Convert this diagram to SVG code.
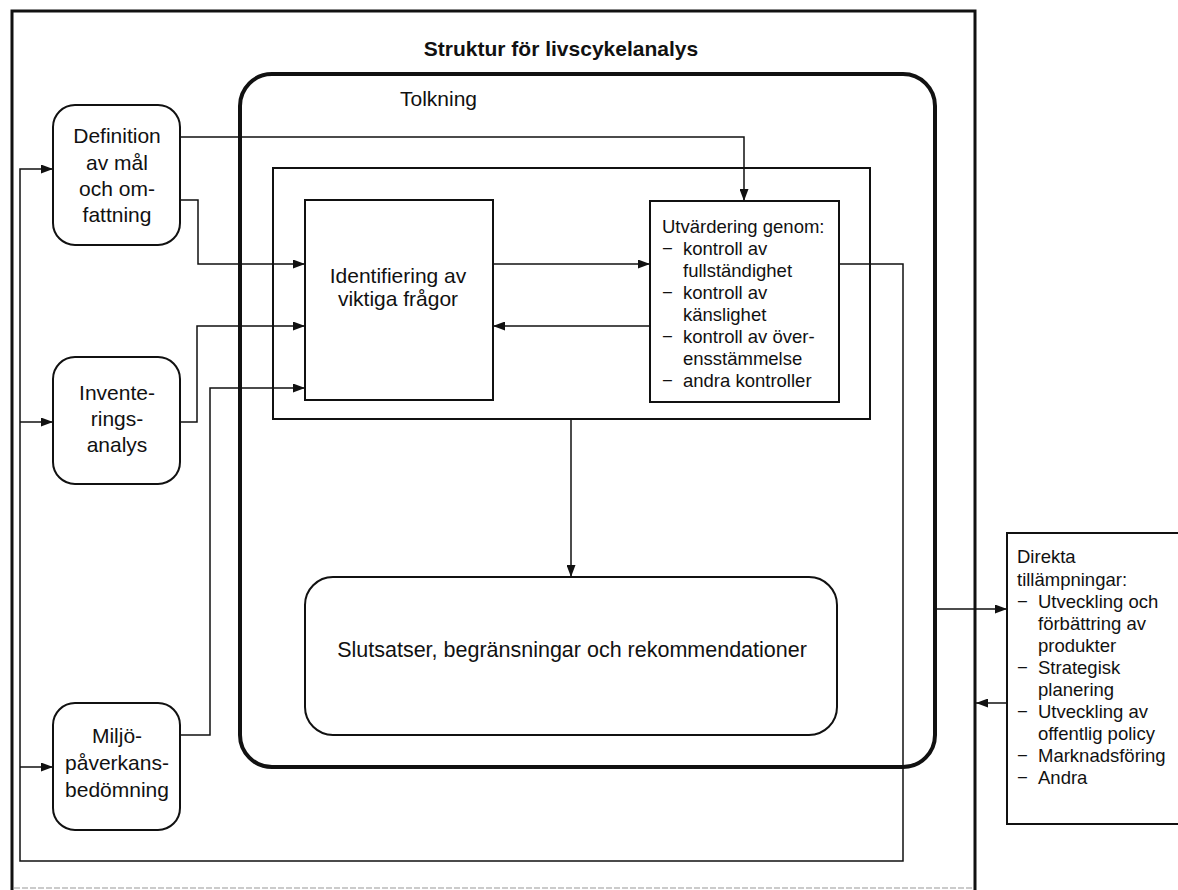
<svg xmlns="http://www.w3.org/2000/svg" width="1178" height="890" viewBox="0 0 1178 890">
<style>
text{font-family:"Liberation Sans",Arial,sans-serif;fill:#111;}
.t21{font-size:21px;}
.t18{font-size:18.5px;}
.c{text-anchor:middle;}
.box{fill:#fff;stroke:#111;stroke-width:2;}
.conn{fill:none;stroke:#111;stroke-width:1.5;}
</style>
<defs>
<marker id="arr" markerUnits="userSpaceOnUse" markerWidth="13" markerHeight="9" refX="12" refY="4.5" orient="auto">
<path d="M0,0 L12,4.5 L0,9 z" fill="#111"/>
</marker>
</defs>
<rect width="1178" height="890" fill="#fff"/>
<g id="frame">
<path d="M12,890 V11 H975 V890" fill="none" stroke="#111" stroke-width="3"/>
<line x1="14" y1="888" x2="973" y2="888" stroke="#bbb" stroke-width="1.5" stroke-dasharray="6,2"/>
<text x="561" y="56" class="c" font-size="21" font-weight="bold">Struktur för livscykelanalys</text>
</g>
<g id="tolkning">
<rect x="240" y="74" width="695" height="693" rx="32" fill="none" stroke="#111" stroke-width="4"/>
<text x="400" y="106" class="t21">Tolkning</text>
</g>
<g id="inner">
<rect x="273" y="168" width="597" height="251" fill="none" stroke="#111" stroke-width="2"/>
</g>
<g id="connectors">
<path class="conn" d="M839,264 H903 V861 H20 V169 H53" marker-end="url(#arr)"/>
<path class="conn" d="M20,422 H53" marker-end="url(#arr)"/>
<path class="conn" d="M20,767 H53" marker-end="url(#arr)"/>
<path class="conn" d="M180,137 H744 V201" marker-end="url(#arr)"/>
<path class="conn" d="M180,200 H198 V264 H305" marker-end="url(#arr)"/>
<path class="conn" d="M180,422 H197 V326 H305" marker-end="url(#arr)"/>
<path class="conn" d="M180,735 H210 V388 H305" marker-end="url(#arr)"/>
<path class="conn" d="M493,264 H650" marker-end="url(#arr)"/>
<path class="conn" d="M650,326 H493" marker-end="url(#arr)"/>
<path class="conn" d="M571,419 V577" marker-end="url(#arr)"/>
<path class="conn" d="M935,609 H1007" marker-end="url(#arr)"/>
<path class="conn" d="M1007,703 H976" marker-end="url(#arr)"/>
</g>
<g id="definition">
<rect class="box" x="53" y="105" width="127" height="140" rx="22"/>
<text class="t21 c" x="117" y="143">Definition</text>
<text class="t21 c" x="117" y="170">av mål</text>
<text class="t21 c" x="117" y="196">och om-</text>
<text class="t21 c" x="117" y="222">fattning</text>
</g>
<g id="inventering">
<rect class="box" x="53" y="357" width="127" height="127" rx="22"/>
<text class="t21 c" x="117" y="400">Invente-</text>
<text class="t21 c" x="117" y="426">rings-</text>
<text class="t21 c" x="117" y="452">analys</text>
</g>
<g id="miljo">
<rect class="box" x="53" y="703" width="127" height="127" rx="22"/>
<text class="t21 c" x="117" y="743">Miljö-</text>
<text class="t21 c" x="117" y="770">påverkans-</text>
<text class="t21 c" x="117" y="797">bedömning</text>
</g>
<g id="identifiering">
<rect class="box" x="305" y="200" width="188" height="200"/>
<text class="t21 c" x="398" y="283">Identifiering av</text>
<text class="t21 c" x="398" y="306">viktiga frågor</text>
</g>
<g id="utvardering">
<rect class="box" x="650" y="201" width="189" height="201"/>
<text class="t18" x="662" y="233">Utvärdering genom:</text>
<text class="t18" x="662" y="255">−</text><text class="t18" x="683" y="255">kontroll av</text>
<text class="t18" x="683" y="277">fullständighet</text>
<text class="t18" x="662" y="299">−</text><text class="t18" x="683" y="299">kontroll av</text>
<text class="t18" x="683" y="321">känslighet</text>
<text class="t18" x="662" y="343">−</text><text class="t18" x="683" y="343">kontroll av över-</text>
<text class="t18" x="683" y="365">ensstämmelse</text>
<text class="t18" x="662" y="387">−</text><text class="t18" x="683" y="387">andra kontroller</text>
</g>
<g id="slutsatser">
<rect class="box" x="305" y="577" width="532" height="158" rx="28"/>
<text class="c" x="572" y="657" font-size="21.5">Slutsatser, begränsningar och rekommendationer</text>
</g>
<g id="direkta">
<rect class="box" x="1007" y="533" width="185" height="291"/>
<text class="t18" x="1017" y="563">Direkta</text>
<text class="t18" x="1017" y="586">tillämpningar:</text>
<text class="t18" x="1017" y="608">−</text><text class="t18" x="1038" y="608">Utveckling och</text>
<text class="t18" x="1038" y="630">förbättring av</text>
<text class="t18" x="1038" y="652">produkter</text>
<text class="t18" x="1017" y="674">−</text><text class="t18" x="1038" y="674">Strategisk</text>
<text class="t18" x="1038" y="696">planering</text>
<text class="t18" x="1017" y="718">−</text><text class="t18" x="1038" y="718">Utveckling av</text>
<text class="t18" x="1038" y="740">offentlig policy</text>
<text class="t18" x="1017" y="762">−</text><text class="t18" x="1038" y="762">Marknadsföring</text>
<text class="t18" x="1017" y="784">−</text><text class="t18" x="1038" y="784">Andra</text>
</g>
</svg>
